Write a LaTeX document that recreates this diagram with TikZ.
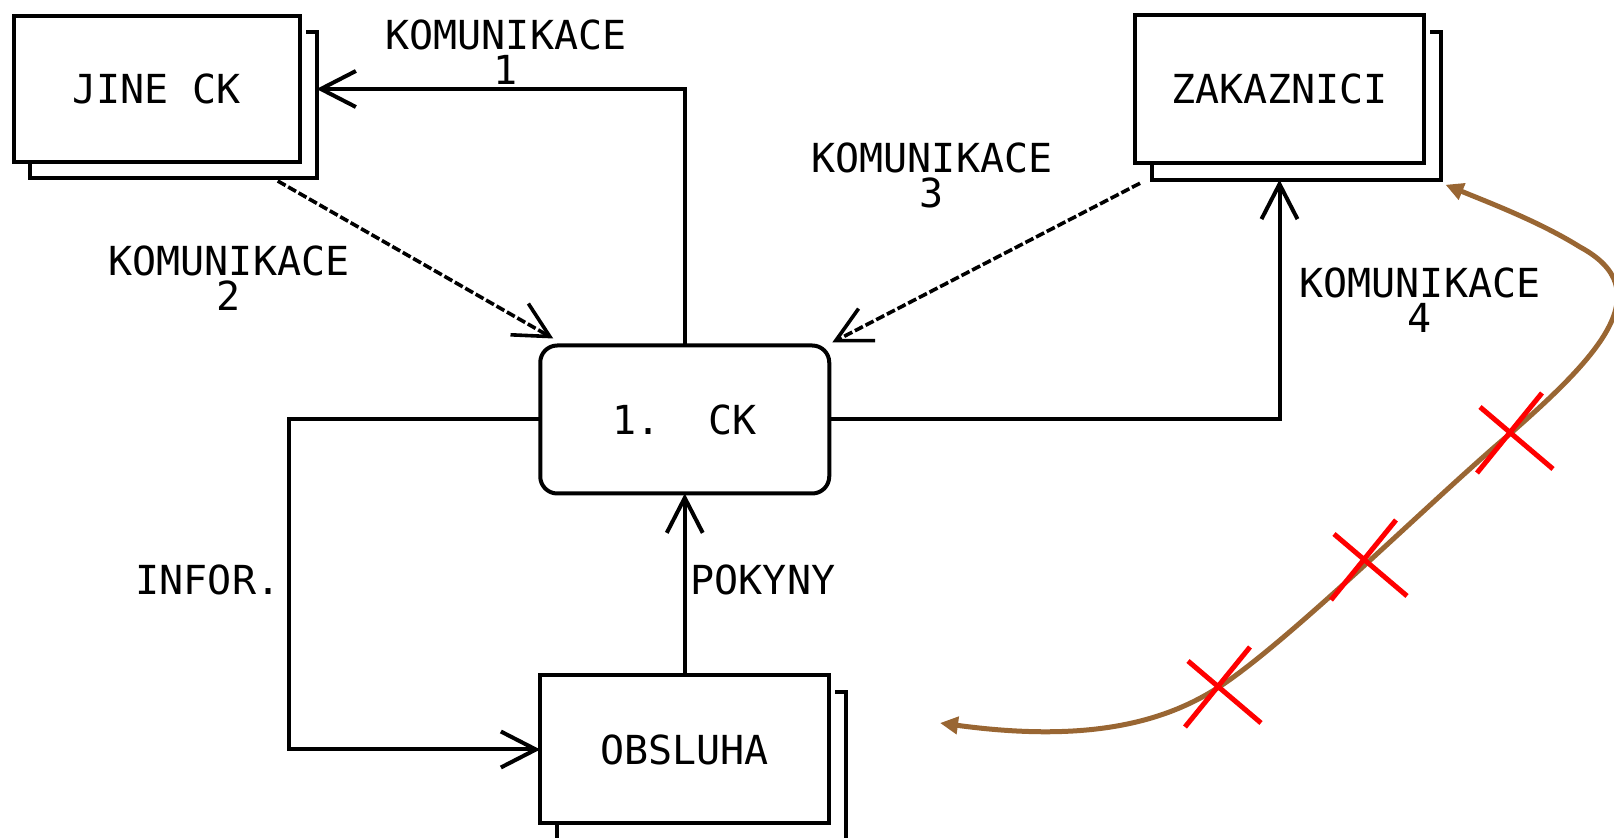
\documentclass[tikz,border=0pt]{standalone}
\usepackage{fontspec}
\setmonofont{DejaVu Sans Mono}
\usetikzlibrary{arrows.meta}

\definecolor{wirebrown}{RGB}{153,102,51}

% second sheet peeking out behind a store box
\newcommand{\backsheet}[1]{%
  \draw[line width=2pt] ([xshift=8.25pt]#1.south west) -- ++(0,16.5)
    -| ([xshift=8.25pt,yshift=-8.25pt]#1.north east) -- ++(-10.5,0);}

\begin{document}
\begin{tikzpicture}[x=0.5pt,y=-0.5pt,
  font=\ttfamily\fontsize{20}{17.5}\selectfont,
  entity/.style={draw,line width=2pt,outer sep=0pt,minimum width=144.5pt,
                 minimum height=74pt,fill=white},
  proc/.style={entity,rounded corners=8.5pt},
  flowline/.style={line width=2pt,-{Straight Barb[length=17.5pt,width=18pt]}},
  hint/.style={flowline,line width=1.8pt,dash pattern=on 4.5pt off 1.5pt},
  lab/.style={align=center,inner sep=0pt}]
  \useasboundingbox (0,0) rectangle (1614,838);
  \clip (0,0) rectangle (1614,838);

  % boxes
  \node[entity,minimum width=143.25pt,minimum height=73pt] (jine) at (156.75,89) {JINE CK};
  \node[entity] (zak) at (1279.5,89.25) {ZAKAZNICI};
  \node[proc] (ck) at (684.75,419.5) {1.~~CK};
  \node[entity] (obs) at (684.75,749.5) {OBSLUHA};
  \backsheet{jine}
  \backsheet{zak}
  \backsheet{obs}

  % flows
  \draw[flowline] (ck.north) |- ([xshift=8.25pt]jine.east);
  \draw[hint] ([xshift=60.5pt,yshift=-9.5pt]jine.south) -- ([xshift=6.5pt,yshift=3.5pt]ck.north west);
  \draw[hint] ([xshift=2.5pt,yshift=-10pt]zak.south west) -- ([xshift=1.5pt,yshift=1.5pt]ck.north east);
  \draw[flowline] (ck.east) -| ([yshift=-8.25pt]zak.south);
  \draw[flowline] (obs.north) -- (ck.south);
  \draw[flowline] (ck.west) -- ++(-251,0) |- (obs.west);

  \node[lab] (k1) at (506,52) {KOMUNIKACE\\1};
  \node[lab] (k2) at (229,278) {KOMUNIKACE\\2};
  \node[lab] (k3) at (932,175) {KOMUNIKACE\\3};
  \node[lab] (k4) at (1420,300) {KOMUNIKACE\\4};
  \node[lab] (pokyny) at (763,580) {POKYNY};
  \node[lab] (infor) at (208,580) {INFOR.};

  % broken link, crossed out
  \coordinate (loose) at (940,723);
  \draw[wirebrown,line width=2.5pt,
        {Triangle[length=9pt,width=8.5pt]}-{Triangle[length=9pt,width=8.5pt]}]
    (loose) .. controls (1080,742) and (1160,725.5) .. (1219,687)
    .. controls (1290,641) and (1440,492) .. (1511,433)
    .. controls (1600,355) and (1660,290) .. (1580,247)
    .. controls (1540,222) and (1490,203) .. ([xshift=10.75pt,yshift=-10.75pt]zak.south east);
  \foreach \p in {(1511,433),(1365,560),(1219,687)}
    \draw[red,line width=2.5pt] \p ++(-31,-26) -- ++(73,62) \p ++(31,-40) -- ++(-65,80);
\end{tikzpicture}
\end{document}
